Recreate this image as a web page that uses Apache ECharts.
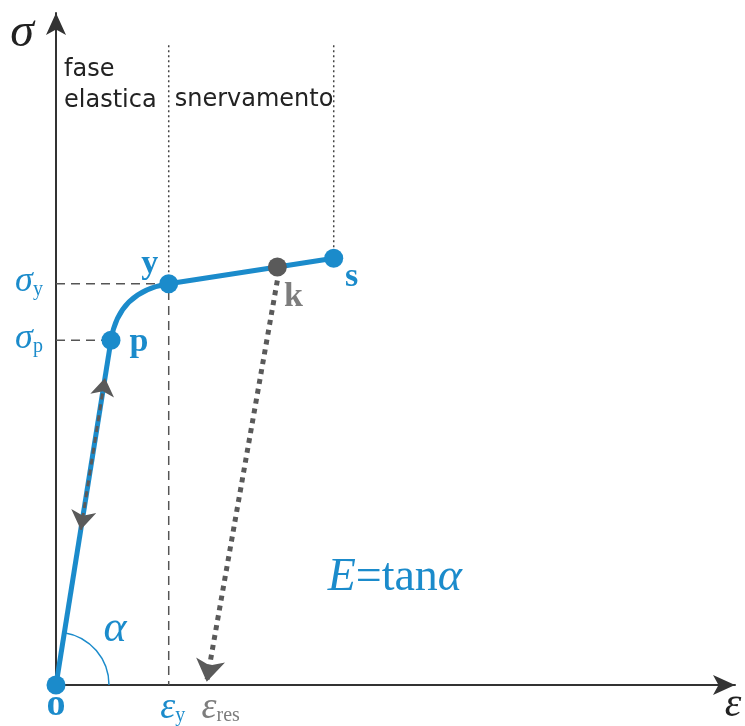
<!DOCTYPE html>
<html>
<head>
<meta charset="utf-8">
<script src="https://cdn.jsdelivr.net/npm/echarts@6/dist/echarts.min.js"></script>
<style>
  html, body { margin: 0; padding: 0; background: #fff; }
  #chart { width: 745px; height: 726px; }
</style>
</head>
<body>
<div id="chart"></div>
<script>
// Stress–strain diagram: elastic phase, yielding, unloading to residual strain.
const pointNames  = ['o', 'p', 'y', 'k', 's'];
const pointStrain = [0, 0.81, 1.66, 3.26, 4.09];
const pointStress = [0, 5.13, 5.97, 6.22, 6.35];

// residual strain after unloading from k
const residualStrain = 2.22;

// load / unload arrows drawn on the elastic branch
const elasticArrowStress = [2.31, 4.57];

// top of the phase separators
const guideTop = 9.52;

const axisMax = 10;

const BLUE = '#1b8bcb';
const DARK = '#5a5a5a';
const GREY = '#7d7d7d';
const SERIF = 'Liberation Serif';

const P = i => [pointStrain[i], pointStress[i]];
const slope = pointStress[1] / pointStrain[1];
const onElastic = s => [s / slope, s];

// knee p -> y: quadratic curve tangent to the elastic and hardening branches
const hardSlope = (pointStress[3] - pointStress[2]) / (pointStrain[3] - pointStrain[2]);
const kneeCtrlX = (pointStress[2] - hardSlope * pointStrain[2]) / (slope - hardSlope);
const kneeCtrl = [kneeCtrlX, slope * kneeCtrlX];

const chart = echarts.init(document.getElementById('chart'), null, { renderer: 'canvas' });

const axisCommon = {
  type: 'value', min: 0, max: axisMax,
  splitLine: { show: false }, axisTick: { show: false }, axisLabel: { show: false },
  axisLine: { show: true, symbol: ['none', 'arrow'], symbolSize: [15, 22],
    lineStyle: { color: '#333', width: 2 } }
};

const labelPt = (x, y, text, style) => ({
  value: [x, y],
  label: Object.assign({ show: true, formatter: text, position: 'inside', opacity: 1 }, style)
});

const boldLetter = (color, size) => ({ fontFamily: SERIF, fontWeight: 'bold', fontSize: size || 34, color });

const subRich = (color, size) => ({
  a: { fontFamily: SERIF, fontStyle: 'italic', fontSize: size || 38, color },
  b: { fontFamily: SERIF, fontSize: 20, color, padding: [16, 0, 0, 0] }
});

chart.setOption({
  animation: false,
  backgroundColor: '#fff',
  grid: { left: 56, right: 10, top: 13, bottom: 41 },
  xAxis: axisCommon,
  yAxis: axisCommon,
  series: [
    // dashed reference lines to the axes
    { type: 'line', symbol: 'none', silent: true, z: 1,
      lineStyle: { color: '#555', width: 1.5, type: [9, 6] },
      data: [[0, pointStress[2]], P(2), [pointStrain[2], 0]] },
    { type: 'line', symbol: 'none', silent: true, z: 1,
      lineStyle: { color: '#555', width: 1.5, type: [9, 6] },
      data: [[0, pointStress[1]], P(1)] },
    // dotted phase separators
    { type: 'line', symbol: 'none', silent: true, z: 1,
      lineStyle: { color: '#444', width: 1.5, type: [2, 3] },
      data: [[pointStrain[2], guideTop], P(2)] },
    { type: 'line', symbol: 'none', silent: true, z: 1,
      lineStyle: { color: '#444', width: 1.5, type: [2, 3] },
      data: [[pointStrain[4], guideTop], P(4)] },
    // angle alpha at the origin
    { type: 'custom', silent: true, z: 2, data: [[0, 0]],
      renderItem: (params, api) => {
        const o = api.coord([0, 0]);
        const p = api.coord(P(1));
        const ang = Math.atan2(p[1] - o[1], p[0] - o[0]);
        return { type: 'arc', shape: { cx: o[0], cy: o[1], r: 53, startAngle: ang, endAngle: 0 },
          style: { stroke: BLUE, lineWidth: 1.5, fill: null } };
      } },
    // elastic branch
    { type: 'line', symbol: 'none', z: 3, lineStyle: { color: BLUE, width: 5 },
      data: [P(0), P(1)] },
    // knee
    { type: 'custom', silent: true, z: 3, data: [P(1)],
      renderItem: (params, api) => {
        const a = api.coord(P(1));
        const c = api.coord(kneeCtrl);
        const b = api.coord(P(2));
        return { type: 'bezierCurve',
          shape: { x1: a[0], y1: a[1], cpx1: c[0], cpy1: c[1], x2: b[0], y2: b[1] },
          style: { stroke: BLUE, lineWidth: 5, fill: null } };
      } },
    // hardening branch
    { type: 'line', symbol: 'none', z: 3, lineStyle: { color: BLUE, width: 5 },
      data: [P(2), P(3), P(4)] },
    // loading / unloading arrows on elastic branch
    { type: 'lines', coordinateSystem: 'cartesian2d', z: 4, symbol: ['arrow', 'arrow'], symbolSize: [19, 18],
      lineStyle: { color: DARK, width: 3, type: [6, 5], curveness: 0, opacity: 1 },
      data: [{ coords: [onElastic(elasticArrowStress[0]), onElastic(elasticArrowStress[1])] }] },
    // unloading from k to residual strain
    { type: 'lines', coordinateSystem: 'cartesian2d', z: 4, symbol: ['none', 'arrow'], symbolSize: [24, 22],
      lineStyle: { color: DARK, width: 5, type: [5, 5], curveness: 0, opacity: 1 },
      data: [{ coords: [[pointStrain[3], pointStress[3] - 0.2], [residualStrain, 0.05]] }] },
    // points
    { type: 'scatter', z: 5, symbolSize: 19, itemStyle: { color: BLUE, opacity: 1 },
      data: [P(0), P(1), P(2), P(4)] },
    { type: 'scatter', z: 5, symbolSize: 19, itemStyle: { color: DARK, opacity: 1 },
      data: [P(3)] },
    // text labels
    { type: 'scatter', z: 6, symbolSize: 0, silent: true, itemStyle: { opacity: 1 },
      data: [
        labelPt(0, 0, pointNames[0], Object.assign({ offset: [0, 20] }, boldLetter(BLUE, 38))),
        labelPt(pointStrain[1], pointStress[1], pointNames[1], Object.assign({ offset: [28, 2] }, boldLetter(BLUE))),
        labelPt(pointStrain[2], pointStress[2], pointNames[2], Object.assign({ offset: [-19, -20] }, boldLetter(BLUE))),
        labelPt(pointStrain[3], pointStress[3], pointNames[3], Object.assign({ offset: [16, 30] }, boldLetter(GREY))),
        labelPt(pointStrain[4], pointStress[4], pointNames[4], Object.assign({ offset: [18, 19] }, boldLetter(BLUE))),
        labelPt(0, pointStress[2], '{a|σ}{b|y}', { offset: [-27, -2], rich: subRich(BLUE, 36) }),
        labelPt(0, pointStress[1], '{a|σ}{b|p}', { offset: [-27, -2], rich: subRich(BLUE, 36) }),
        labelPt(pointStrain[2], 0, '{a|ε}{b|y}', { offset: [4, 23], rich: subRich(BLUE) }),
        labelPt(residualStrain, 0, '{a|ε}{b|res}', { offset: [14, 23], rich: subRich(GREY) }),
        labelPt(0, axisMax, 'σ', { offset: [-34, 20], fontFamily: SERIF, fontStyle: 'italic', fontSize: 48, color: '#222' }),
        labelPt(axisMax, 0, 'ε', { offset: [-2, 20], fontFamily: SERIF, fontStyle: 'italic', fontSize: 42, color: '#222' }),
        labelPt(0, 0, '{a|α}', { offset: [59, -56],
          rich: { a: { fontFamily: SERIF, fontStyle: 'italic', fontSize: 44, color: BLUE } } }),
        labelPt(4.99, 1.6, '{e|E}{t|=tan}{a|α}', { offset: [0, 0],
          rich: { e: { fontFamily: SERIF, fontStyle: 'italic', fontSize: 46, color: BLUE },
                  t: { fontFamily: SERIF, fontSize: 46, color: BLUE },
                  a: { fontFamily: SERIF, fontStyle: 'italic', fontSize: 46, color: BLUE } } }),
        labelPt(0, guideTop, 'fase\nelastica', { position: 'right', offset: [3, 40], align: 'left',
          fontFamily: 'DejaVu Sans', fontSize: 24, lineHeight: 31, color: '#222' }),
        labelPt(pointStrain[2], guideTop, 'snervamento', { position: 'right', offset: [1, 55], align: 'left',
          fontFamily: 'DejaVu Sans', fontSize: 24, color: '#222' })
      ] }
  ]
});
</script>
</body>
</html>
